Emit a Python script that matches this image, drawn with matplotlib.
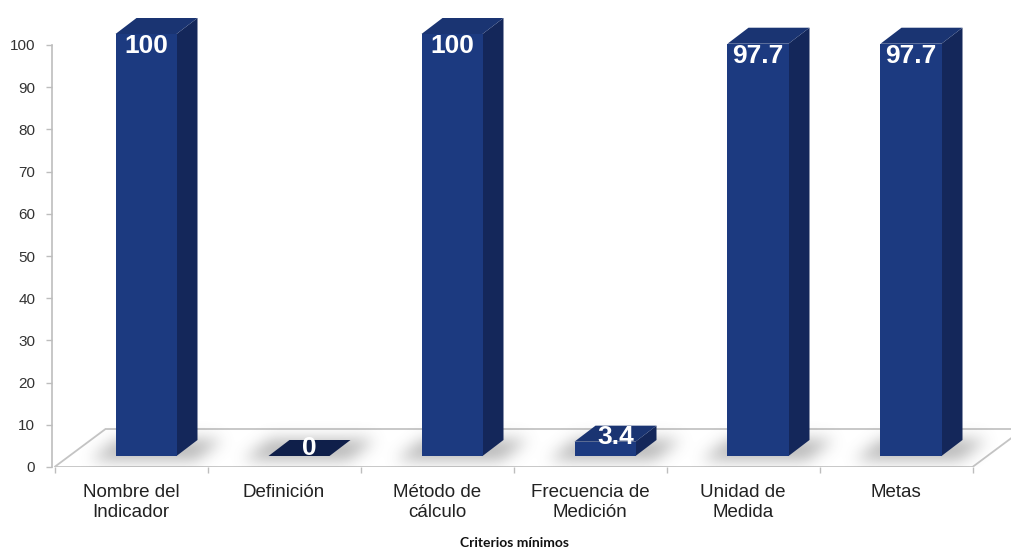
import numpy as np
import matplotlib
matplotlib.use("Agg")
import matplotlib.pyplot as plt
from matplotlib.patches import Polygon

# datos del gráfico
categorias = ["Nombre del\nIndicador", "Definición", "Método de\ncálculo",
              "Frecuencia de\nMedición", "Unidad de\nMedida", "Metas"]
valores = [100, 0, 100, 3.4, 97.7, 97.7]
etiquetas = ["100", "0", "100", "3.4", "97.7", "97.7"]
yticks = [0, 10, 20, 30, 40, 50, 60, 70, 80, 90, 100]

plt.rcParams['font.family'] = ['Liberation Sans', 'DejaVu Sans']

# geometría de la vista 3D (en unidades de datos)
PX_CAT = 153.0      # píxeles por categoría
PX_Y = 4.22         # píxeles por unidad en y
prof_dx = 51 / PX_CAT   # desplazamiento del fondo del piso
prof_dy = 38 / PX_Y
base_y = 11 / PX_Y      # frente de la barra sobre el piso
off_x = 15 / PX_CAT
lado_dx = 21 / PX_CAT
lado_dy = 16 / PX_Y
ancho = 61 / PX_CAT

c_frente = "#1c3a80"
c_lado = "#14275a"
c_techo = "#1a3472"

fig = plt.figure(figsize=(10.11, 5.5), dpi=100)
ax = fig.add_axes([52 / 1011, 83 / 550, (1011 - 52) / 1011, 467 / 550])
ax.set_xlim((52 - 131) / PX_CAT, (1011 - 131) / PX_CAT)
ax.set_ylim(0, 467 / PX_Y)

n = len(categorias)

# piso
x_ini, x_fin = -0.5, n - 0.5
piso = Polygon([(x_ini, 0), (x_fin, 0), (x_fin + prof_dx, prof_dy),
                (x_ini + prof_dx, prof_dy)], closed=True,
               facecolor="white", edgecolor="#c4c4c4", lw=1.3, zorder=1)
ax.add_patch(piso)


def desenfocar(img, sigma):
    r = int(3 * sigma)
    k = np.exp(-0.5 * (np.arange(-r, r + 1) / sigma) ** 2)
    k /= k.sum()
    img = np.apply_along_axis(lambda f: np.convolve(f, k, mode="same"), 1, img)
    img = np.apply_along_axis(lambda f: np.convolve(f, k, mode="same"), 0, img)
    return img


# sombras suaves bajo cada barra
gx0, gx1 = ax.get_xlim()
gy0, gy1 = -2.0, prof_dy + 2.0
nx = int((gx1 - gx0) * PX_CAT)
ny = int((gy1 - gy0) * PX_Y)
gx = np.linspace(gx0, gx1, nx)
gy = np.linspace(gy0, gy1, ny)
XX, YY = np.meshgrid(gx, gy)
mascara = np.zeros_like(XX)
for i, v in enumerate(valores):
    xl = i + off_x - ancho / 2
    t = (YY - base_y) / lado_dy
    xs = XX - t * lado_dx
    dentro = (t >= -0.3) & (t <= 1.0) & (xs >= xl - 0.13) & (xs <= xl + ancho + 0.16)
    mascara[dentro] = 1.0
alfa = desenfocar(mascara, 7.5) * 0.5
sombra = np.zeros((ny, nx, 4))
sombra[..., :3] = 0.42
sombra[..., 3] = np.clip(alfa, 0, 1)
ax.imshow(sombra, extent=(gx0, gx1, gy0, gy1), origin="lower",
          aspect="auto", interpolation="bilinear", zorder=2)

# barras
for i, v in enumerate(valores):
    xl = i + off_x - ancho / 2
    xr = xl + ancho
    y0 = base_y
    y1 = base_y + v
    techo_col = c_techo if v > 0 else "#0f1f4a"
    if v > 0:
        ax.add_patch(Polygon([(xr, y0), (xr + lado_dx, y0 + lado_dy),
                              (xr + lado_dx, y1 + lado_dy), (xr, y1)],
                             closed=True, facecolor=c_lado, edgecolor="none", zorder=3))
        ax.add_patch(Polygon([(xl, y0), (xr, y0), (xr, y1), (xl, y1)],
                             closed=True, facecolor=c_frente, edgecolor="none", zorder=3))
    ax.add_patch(Polygon([(xl, y1), (xr, y1), (xr + lado_dx, y1 + lado_dy),
                          (xl + lado_dx, y1 + lado_dy)],
                         closed=True, facecolor=techo_col, edgecolor="none", zorder=3))
    # etiqueta de valor
    if v >= 50:
        tx, ty = (xl + xr) / 2, y1 - 2.8
    else:
        tx, ty = (xl + xr) / 2 + lado_dx / 2, y1 + (1.9 if v == 0 else 1.2)
    ax.text(tx, ty, etiquetas[i], ha="center", va="center", color="white",
            fontsize=19, fontweight="bold", zorder=5)

# ejes
for lado in ["top", "right", "bottom"]:
    ax.spines[lado].set_visible(False)
ax.spines["left"].set_color("#bdbdbd")
ax.spines["left"].set_linewidth(1.2)
ax.spines["left"].set_bounds(0, 100)
ax.set_yticks(yticks)
ax.set_yticklabels([str(t) for t in yticks])
ax.tick_params(axis="y", direction="out", length=4, width=1, color="#bdbdbd",
               labelsize=11, labelcolor="#333333", pad=8)

ax.set_xticks(range(n))
ax.set_xticklabels(categorias, fontsize=13.5, color="#222222", linespacing=1.25)
ax.set_xticks(np.arange(n + 1) - 0.5, minor=True)
ax.tick_params(axis="x", which="major", length=0, pad=12)
ax.tick_params(axis="x", which="minor", length=4, width=1, color="#bdbdbd")

fig.text(515 / 1011, 1 - 543 / 550, "Criterios mínimos", ha="center", va="center",
         fontsize=10, fontweight="bold", color="#111111", family=["Lato", "DejaVu Sans"])

fig.savefig("out.png", dpi=100)
